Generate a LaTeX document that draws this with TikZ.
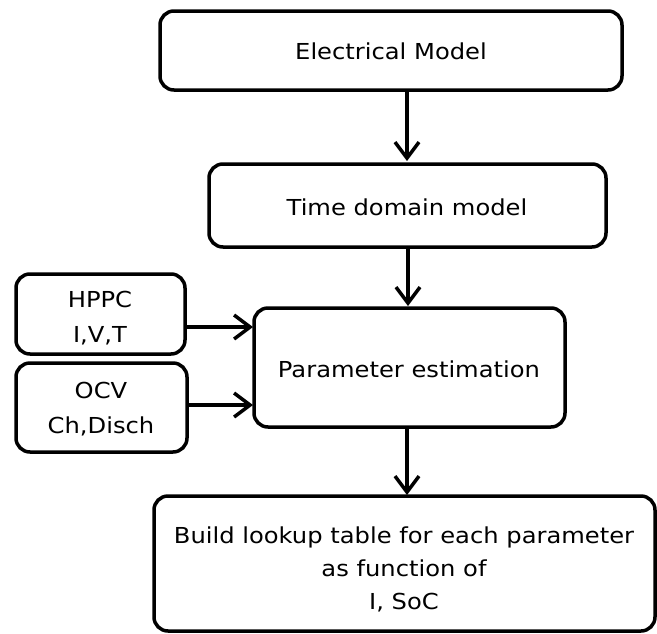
\documentclass[tikz,border=0pt]{standalone}
\usepackage{fontspec}
\setmainfont[FakeStretch=1.1]{DejaVu Sans}
\usetikzlibrary{arrows.meta}
\begin{document}
\begin{tikzpicture}[x=1pt,y=-1pt,
  box/.style={draw, line width=3.5pt, rounded corners=14pt},
  lbl/.style={align=center, font=\fontsize{22}{33}\selectfont},
  lbls/.style={align=center, font=\fontsize{22}{35}\selectfont},
  arr/.style={line width=3.5pt, -{Straight Barb[length=16pt,width=24pt,line width=3.5pt]}}]
\useasboundingbox (0,0) rectangle (657,633);
\path[box] (160,11) rectangle (622,90);
\node[lbl] (em) at (391,51) {Electrical Model};
\coordinate (emb) at (407,90);
\path[box] (209,164) rectangle (606,247);
\node[lbl] (td) at (407,207) {Time domain model};
\coordinate (tdt) at (407,161);
\coordinate (tdb) at (408,247);
\path[box] (254,308) rectangle (565,427);
\node[lbl] (pe) at (409,369) {Parameter estimation};
\coordinate (pet) at (408,306);
\coordinate (peb) at (407,427);
\coordinate (pel1) at (253,327);
\coordinate (pel2) at (253,405);
\path[box] (16,274) rectangle (185,354);
\node[lbls] (hp) at (100,318) {HPPC\\I,V,T};
\coordinate (hpr) at (185,327);
\path[box] (16,363) rectangle (187,452);
\node[lbls] (ocv) at (101,409) {OCV\\Ch,Disch};
\coordinate (ocvr) at (187,405);
\path[box] (154,496) rectangle (655,631);
\node[lbl] (bl) at (404,569) {Build lookup table for each parameter\\as function of\\I, SoC};
\coordinate (blt) at (407,495);
\draw[arr] (emb) -- (tdt);
\draw[arr] (tdb) -- (pet);
\draw[arr] (hpr) -- (pel1);
\draw[arr] (ocvr) -- (pel2);
\draw[arr] (peb) -- (blt);
\end{tikzpicture}
\end{document}
